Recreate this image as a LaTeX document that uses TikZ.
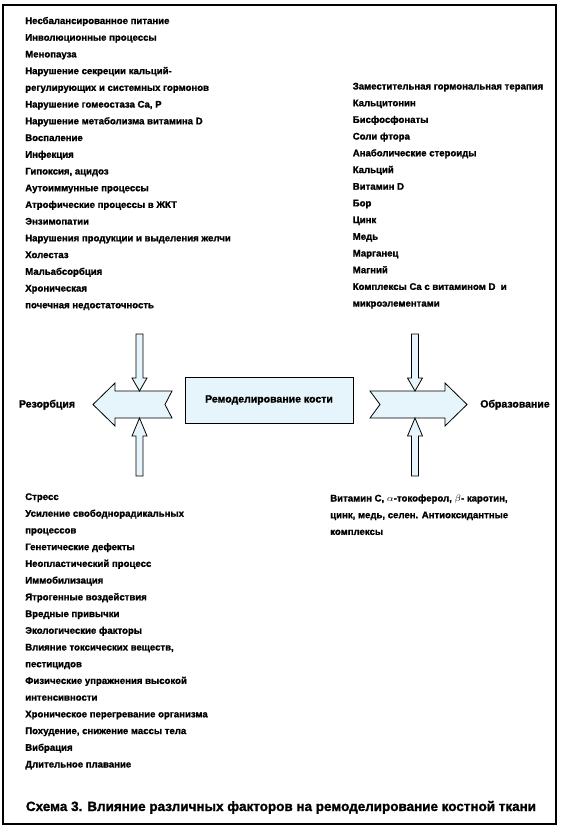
\documentclass[tikz,border=0pt]{standalone}
\usepackage{fontspec}
\setmainfont{Liberation Sans}[BoldFeatures={FakeBold=1.3}]
\definecolor{paleblue}{HTML}{E6F5FB}
\begin{document}
\begin{tikzpicture}[x=0.75pt,y=-0.75pt,
  item/.style={anchor=base west,inner sep=0pt,font=\fontsize{7.2}{9}\selectfont\bfseries},
  midlabel/.style={inner sep=0pt,font=\fontsize{7.9}{10}\selectfont\bfseries},
  barrow/.style={draw=black,line width=0.6pt,fill=paleblue,line join=miter},
  centrebox/.style={draw=black,line width=0.6pt,fill=paleblue,minimum width=126pt,minimum height=34.5pt,inner sep=0pt,font=\fontsize{7.9}{10}\selectfont\bfseries}]
\useasboundingbox (0,0) rectangle (565,832);
% frame
\draw[line width=0.9pt] (3,5) rectangle (556,824);
% left top list
\foreach \t [count=\i] in {
  {Несбалансированное питание},
  {Инволюционные процессы},
  {Менопауза},
  {Нарушение секреции кальций-},
  {регулирующих и системных гормонов},
  {Нарушение гомеостаза Ca, P},
  {Нарушение метаболизма витамина D},
  {Воспаление},
  {Инфекция},
  {Гипоксия, ацидоз},
  {Аутоиммунные процессы},
  {Атрофические процессы в ЖКТ},
  {Энзимопатии},
  {Нарушения продукции и выделения желчи},
  {Холестаз},
  {Мальабсорбция},
  {Хроническая},
  {почечная недостаточность}}
  \node[item] (lt\i) at ({25},{24+16.72*(\i-1)}) {\t};
% right top list
\foreach \t [count=\i] in {
  {Заместительная гормональная терапия},
  {Кальцитонин},
  {Бисфосфонаты},
  {Соли фтора},
  {Анаболические стероиды},
  {Кальций},
  {Витамин D},
  {Бор},
  {Цинк},
  {Медь},
  {Марганец},
  {Магний},
  {Комплексы Ca с витамином D\ \ и},
  {микроэлементами}}
  \node[item] (rt\i) at ({352.5},{89.5+16.7*(\i-1)}) {\t};
% left bottom list
\foreach \t [count=\i] in {
  {Стресс},
  {Усиление свободнорадикальных},
  {процессов},
  {Генетические дефекты},
  {Неопластический процесс},
  {Иммобилизация},
  {Ятрогенные воздействия},
  {Вредные привычки},
  {Экологические факторы},
  {Влияние токсических веществ,},
  {пестицидов},
  {Физические упражнения высокой},
  {интенсивности},
  {Хроническое перегревание организма},
  {Похудение, снижение массы тела},
  {Вибрация},
  {Длительное плавание}}
  \node[item] (lb\i) at ({25},{500+16.72*(\i-1)}) {\t};
% right bottom list
\foreach \t [count=\i] in {
  {Витамин C, $\alpha$-токоферол, $\beta$- каротин,},
  {цинк, медь, селен. Антиоксидантные},
  {комплексы}}
  \node[item] (rb\i) at ({330},{501.5+16.7*(\i-1)}) {\t};
% centre
\node[centrebox] (box) at (269,400) {Ремоделирование кости};
\node[midlabel,anchor=base] (res) at (47,407.5) {Резорбция};
\node[midlabel,anchor=base] (obr) at (515,407.5) {Образование};
% horizontal block arrows
\draw[barrow] (93,404.5) -- (115,383) -- (115,391) -- (172,391) -- (165,404.5)
  -- (172,418) -- (115,418) -- (115,426) -- cycle;
\draw[barrow] (467,404.5) -- (445,383) -- (445,391) -- (370,391) -- (380,404.5)
  -- (370,418) -- (445,418) -- (445,426) -- cycle;
% vertical block arrows
\foreach \cx in {139.5,415}{
  \draw[barrow] ({\cx-3.5},334) -- ({\cx+3.5},334) -- ({\cx+3.5},378) -- ({\cx+7.5},378)
    -- (\cx,391) -- ({\cx-7.5},378) -- ({\cx-3.5},378) -- cycle;
  \draw[barrow] ({\cx-3.5},476) -- ({\cx+3.5},476) -- ({\cx+3.5},436) -- ({\cx+7.5},436)
    -- (\cx,418) -- ({\cx-7.5},436) -- ({\cx-3.5},436) -- cycle;
}
% caption
\node[inner sep=0pt,anchor=base,font=\fontsize{10.1}{12}\selectfont\bfseries] (cap) at (281,811)
  {Схема 3. Влияние различных факторов на ремоделирование костной ткани};
\end{tikzpicture}
\end{document}
